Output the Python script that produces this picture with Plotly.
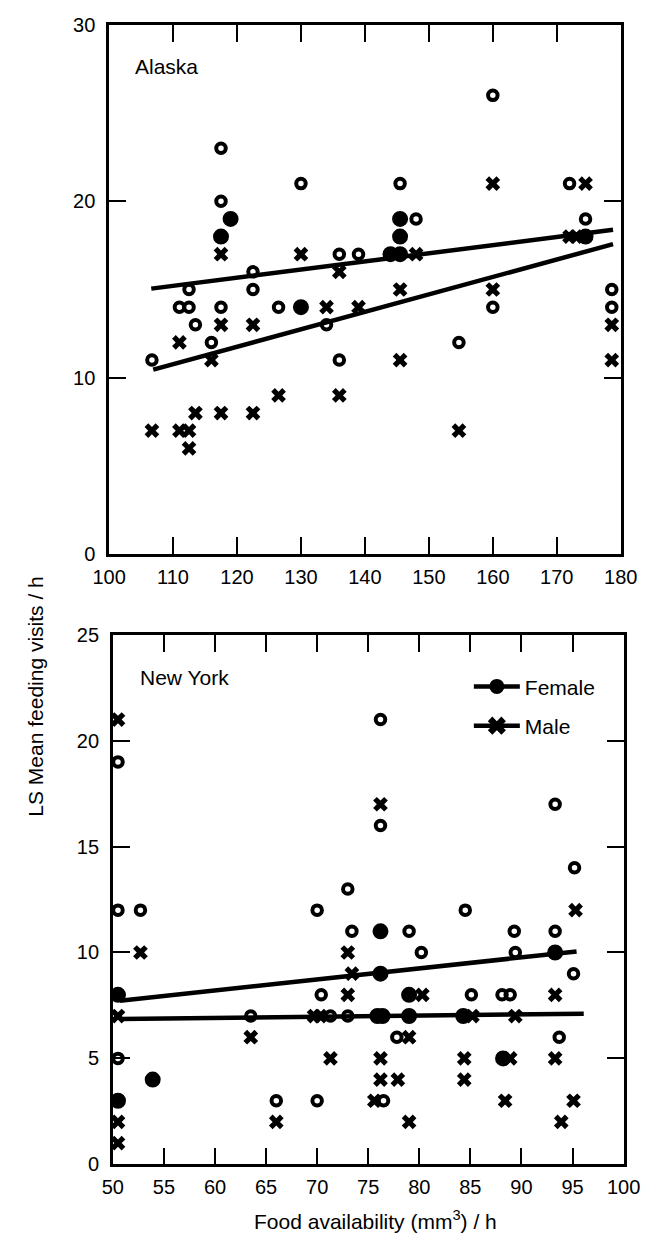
import plotly.graph_objects as go

# ---------------- Alaska data ----------------
# dense = 1 where several female points overlap (drawn as a solid disc)
ak_female_x = [106.7, 111, 112.5, 112.5, 113.5, 116, 117.5, 117.5, 117.5, 119, 117.5, 122.5, 122.5,
               126.5, 130, 130, 134, 136, 136, 139, 144, 145.5, 145.5, 145.5, 145.5, 148, 154.7,
               160, 160, 172, 174.5, 174.5, 178.6, 178.6]
ak_female_y = [11, 14, 14, 15, 13, 12, 23, 20, 18, 19, 14, 16, 15,
               14, 21, 14, 13, 17, 11, 17, 17, 17, 21, 19, 18, 19, 12,
               26, 14, 21, 19, 18, 15, 14]
ak_female_dense = [0, 0, 0, 0, 0, 0, 0, 0, 1, 1, 0, 0, 0,
                   0, 0, 1, 0, 0, 0, 0, 1, 1, 0, 1, 1, 0, 0,
                   0, 0, 0, 0, 1, 0, 0]
ak_male_x = [106.7, 111, 112.5, 112.5, 113.5, 117.5, 122.5, 111, 116, 117.5, 122.5, 117.5,
             126.5, 130, 134, 136, 136, 139, 148, 145.5, 145.5,
             154.7, 160, 160, 172, 173, 174.5, 178.6, 178.6]
ak_male_y = [7, 7, 7, 6, 8, 8, 8, 12, 11, 13, 13, 17,
             9, 17, 14, 16, 9, 14, 17, 15, 11,
             7, 21, 15, 18, 18, 21, 13, 11]
ak_fit_female_x = [106.6, 178.8]
ak_fit_female_y = [15.05, 18.38]
ak_fit_male_x = [106.9, 178.8]
ak_fit_male_y = [10.46, 17.57]

# ---------------- New York data ----------------
ny_female_x = [50.5, 50.5, 52.7, 50.5, 50.5, 50.5, 53.9, 63.5, 66, 70, 70, 70.4, 71.3, 73, 73,
               73.4, 75.9, 76.4, 76.2, 76.2, 76.2, 76.2, 76.5, 77.8, 79, 79, 79, 80.2, 84.5,
               84.3, 85.1, 88.1, 88.9, 88.2, 89.3, 89.4, 93.3, 93.3, 93.3, 93.7, 95.2, 95.1]
ny_female_y = [19, 12, 12, 8, 5, 3, 4, 7, 3, 12, 3, 8, 7, 13, 7,
               11, 7, 7, 21, 16, 11, 9, 3, 6, 11, 8, 7, 10, 12,
               7, 8, 8, 8, 5, 11, 10, 17, 11, 10, 6, 14, 9]
ny_female_dense = [0, 0, 0, 1, 0, 1, 1, 0, 0, 0, 0, 0, 0, 0, 0,
                   0, 1, 1, 0, 0, 1, 1, 0, 0, 0, 1, 1, 0, 0,
                   1, 0, 0, 0, 1, 0, 0, 0, 0, 1, 0, 0, 0]
ny_male_x = [50.5, 50.5, 50.5, 50.5, 52.7, 63.5, 66, 69.7, 70.3, 71.3, 73, 73.4,
             73, 76.2, 76.2, 76.2, 77.9, 75.6, 79, 79, 80.3,
             85.2, 84.4, 84.4, 88.9, 88.4, 89.4, 93.3, 93.3, 93.9, 95.1, 95.3]
ny_male_y = [21, 7, 2, 1, 10, 6, 2, 7, 7, 5, 10, 9,
             8, 17, 5, 4, 4, 3, 6, 2, 8,
             7, 5, 4, 5, 3, 7, 8, 5, 2, 3, 12]
ny_fit_female_x = [50.7, 95.4]
ny_fit_female_y = [7.72, 10.05]
ny_fit_male_x = [50.7, 96.1]
ny_fit_male_y = [6.86, 7.11]

ak_xticks = [100, 110, 120, 130, 140, 150, 160, 170, 180]
ak_yticks = [0, 10, 20, 30]
ny_xticks = [50, 55, 60, 65, 70, 75, 80, 85, 90, 95, 100]
ny_yticks = [0, 5, 10, 15, 20, 25]

FONT = "Liberation Sans, Arial, sans-serif"
W, H = 670, 1247

fig = go.Figure()


def add_panel(xa, ya, fx, fy, fd, mx, my, lfx, lfy, lmx, lmy):
    for lx, ly in ((lfx, lfy), (lmx, lmy)):
        fig.add_trace(go.Scatter(x=lx, y=ly, mode="lines", xaxis=xa, yaxis=ya,
                                 line=dict(color="black", width=4.5), showlegend=False,
                                 hoverinfo="skip"))
    fig.add_trace(go.Scatter(x=mx, y=my, mode="markers", xaxis=xa, yaxis=ya, showlegend=False,
                             marker=dict(symbol="x", size=13, color="black", opacity=1,
                                         line=dict(width=0))))
    fig.add_trace(go.Scatter(x=fx, y=fy, mode="markers", xaxis=xa, yaxis=ya, showlegend=False,
                             marker=dict(symbol=["circle" if d else "circle-open" for d in fd],
                                         size=[12 if d else 9.5 for d in fd], opacity=1,
                                         color="black", line=dict(color="black", width=4))))


add_panel("x", "y", ak_female_x, ak_female_y, ak_female_dense, ak_male_x, ak_male_y,
          ak_fit_female_x, ak_fit_female_y, ak_fit_male_x, ak_fit_male_y)
add_panel("x2", "y2", ny_female_x, ny_female_y, ny_female_dense, ny_male_x, ny_male_y,
          ny_fit_female_x, ny_fit_female_y, ny_fit_male_x, ny_fit_male_y)

# legend entries
fig.add_trace(go.Scatter(x=[None], y=[None], mode="lines+markers", name="Female",
                         xaxis="x2", yaxis="y2", legendgroup="f",
                         line=dict(color="black", width=4.5),
                         marker=dict(symbol="circle", size=15, color="black")))
fig.add_trace(go.Scatter(x=[None], y=[None], mode="lines+markers", name="Male",
                         xaxis="x2", yaxis="y2", legendgroup="m",
                         line=dict(color="black", width=4.5),
                         marker=dict(symbol="x", size=16, color="black")))

axis_common = dict(showline=True, linecolor="black", linewidth=2.5, mirror="allticks",
                   ticks="inside", ticklen=17, tickwidth=2, tickcolor="black",
                   showgrid=False, zeroline=False,
                   tickfont=dict(family=FONT, size=20, color="black"))

fig.update_layout(
    width=W, height=H, margin=dict(l=0, r=0, t=0, b=0),
    paper_bgcolor="white", plot_bgcolor="white",
    font=dict(family=FONT, size=21, color="black"),
    xaxis=dict(domain=[97 / W, 636 / W], anchor="y", range=[100, 180],
               tickvals=ak_xticks, ticktext=[str(v) for v in ak_xticks],
               ticklabelstandoff=3, **axis_common),
    yaxis=dict(domain=[1 - 553 / H, 1 - 14 / H], anchor="x", range=[0, 30],
               tickvals=ak_yticks, ticktext=[str(v) for v in ak_yticks],
               ticklabelstandoff=7, **axis_common),
    xaxis2=dict(domain=[101 / W, 639 / W], anchor="y2", range=[50, 100],
                tickvals=ny_xticks, ticktext=[str(v) for v in ny_xticks],
                ticklabelstandoff=3, **axis_common),
    yaxis2=dict(domain=[1 - 1174 / H, 1 - 635 / H], anchor="x2", range=[0, 25],
                tickvals=ny_yticks, ticktext=[str(v) for v in ny_yticks],
                ticklabelstandoff=7, **axis_common),
    legend=dict(x=476 / W, y=1 - 667 / H, xanchor="left", yanchor="top",
                bgcolor="rgba(0,0,0,0)", font=dict(family=FONT, size=21, color="black"),
                itemwidth=46, tracegroupgap=9),
    annotations=[
        dict(text="Alaska", x=122 / W, y=1 - 57 / H, xref="paper", yref="paper",
             xanchor="left", yanchor="middle", showarrow=False,
             font=dict(family=FONT, size=21, color="black")),
        dict(text="New York", x=127 / W, y=1 - 678 / H, xref="paper", yref="paper",
             xanchor="left", yanchor="middle", showarrow=False,
             font=dict(family=FONT, size=21, color="black")),
        dict(text="LS Mean feeding visits / h", x=20 / W, y=1 - 698 / H, xref="paper",
             yref="paper", xanchor="center", yanchor="middle", textangle=-90,
             showarrow=False, font=dict(family=FONT, size=21, color="black")),
        dict(text="Food availability (mm<sup>3</sup>) / h", x=378 / W, y=1 - 1231 / H,
             xref="paper", yref="paper", xanchor="center", yanchor="middle",
             showarrow=False, font=dict(family=FONT, size=21, color="black")),
    ],
)

fig.write_html("out.html")
